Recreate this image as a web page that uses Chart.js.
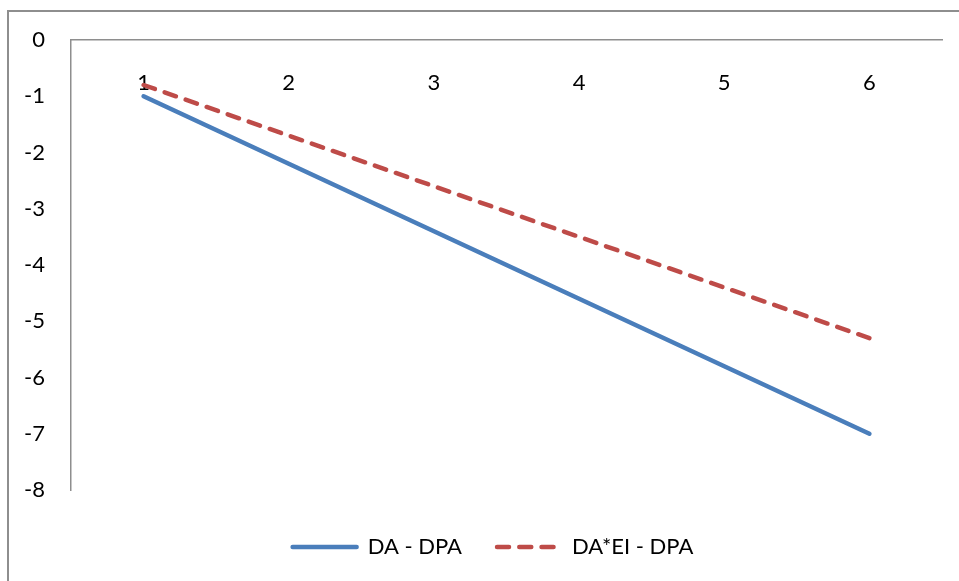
<!DOCTYPE html>
<html>
<head>
<meta charset="utf-8">
<script src="https://cdn.jsdelivr.net/npm/chart.js@4/dist/chart.umd.min.js"></script>
<style>
  html, body { margin: 0; padding: 0; background: #fff; overflow: hidden; }
  #wrap { position: absolute; left: 0; top: 0; width: 959px; height: 581px; }
  #frame { position: absolute; left: 7px; top: 10px; width: 1000px; height: 700px;
           border-left: 2px solid #8e8e8e; border-top: 2px solid #8e8e8e; box-sizing: border-box; }
  canvas { position: absolute; left: 0; top: 0; }
</style>
</head>
<body>
<div id="wrap">
  <div id="frame"></div>
  <canvas id="c" width="959" height="581"></canvas>
</div>
<script>
const categories = ['1', '2', '3', '4', '5', '6'];
const seriesNames = ['DA - DPA', 'DA*EI - DPA'];
const daDpa = [-1.0, -2.2, -3.4, -4.6, -5.8, -7.0];
const daEiDpa = [-0.8, -1.7, -2.6, -3.5, -4.4, -5.3];
const yTicks = [0, -1, -2, -3, -4, -5, -6, -7, -8];

const FONT = 'Lato, "Open Sans", sans-serif';
const FS = 22;

const legendShift = {
  id: 'legendShift',
  afterLayout(chart) {
    if (chart.legend) {
      chart.legend.left += 22;
      chart.legend.right += 22;
    }
  }
};

new Chart(document.getElementById('c'), {
  type: 'line',
  data: {
    labels: categories,
    datasets: [
      {
        label: seriesNames[0],
        data: daDpa,
        borderColor: '#4A7EBB',
        backgroundColor: '#4A7EBB',
        borderWidth: 4.5,
        borderCapStyle: 'round',
        pointRadius: 0,
        tension: 0
      },
      {
        label: seriesNames[1],
        data: daEiDpa,
        borderColor: '#BE4B48',
        backgroundColor: '#BE4B48',
        borderWidth: 4.5,
        borderCapStyle: 'round',
        borderDash: [12, 10.26],
        pointRadius: 0,
        tension: 0
      }
    ]
  },
  plugins: [legendShift],
  options: {
    responsive: false,
    animation: false,
    layout: { padding: { left: 0, top: 40, right: 17, bottom: 13 } },
    plugins: {
      tooltip: { enabled: false },
      legend: {
        position: 'bottom',
        title: { display: true, text: '', font: { size: 1 }, padding: { top: 0, bottom: 9.8 } },
        labels: {
          usePointStyle: true,
          pointStyle: 'line',
          pointStyleWidth: 64,
          padding: 35,
          color: '#000',
          font: { family: FONT, size: FS },
          generateLabels(chart) {
            const items = Chart.defaults.plugins.legend.labels.generateLabels(chart);
            items.forEach(it => {
              const ds = chart.data.datasets[it.datasetIndex];
              it.lineDash = ds.borderDash || [];
              it.lineDashOffset = 0;
              it.lineCap = 'round';
              it.lineWidth = ds.borderWidth;
              it.strokeStyle = ds.borderColor;
              it.fillStyle = ds.borderColor;
              it.pointStyle = 'line';
            });
            return items;
          }
        }
      }
    },
    scales: {
      x: {
        type: 'category',
        position: { y: 0 },
        offset: true,
        grid: { display: false },
        border: { display: true, color: '#8e8e8e', width: 1.5 },
        ticks: { color: '#000', font: { family: FONT, size: FS }, padding: 21.8, maxRotation: 0 }
      },
      y: {
        type: 'linear',
        min: -8,
        max: 0,
        afterFit: (s) => { s.width = 71; },
        afterBuildTicks: (s) => { s.ticks = yTicks.map(v => ({ value: v })); },
        grid: { display: false },
        border: { display: true, color: '#8e8e8e', width: 1.5 },
        ticks: { color: '#000', font: { family: FONT, size: FS }, padding: 18, stepSize: 1 }
      }
    }
  }
});
</script>
</body>
</html>
